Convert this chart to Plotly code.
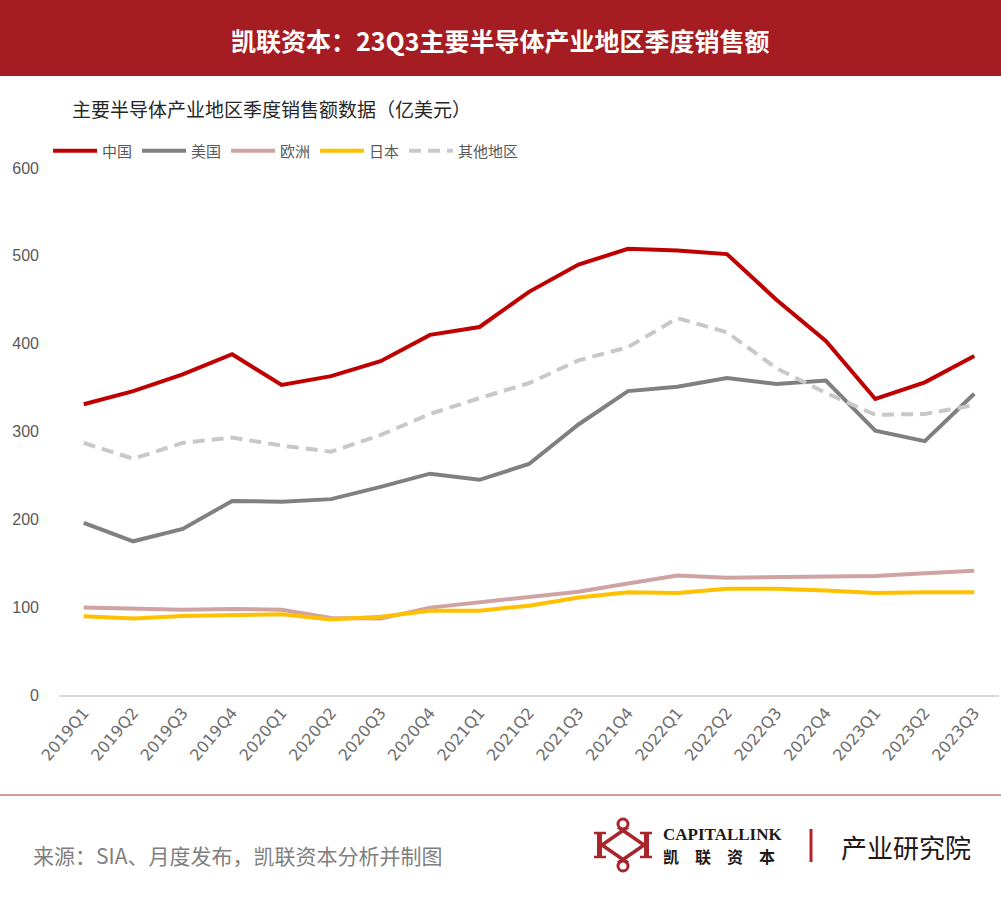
import plotly.graph_objects as go

quarters = ["2019Q1", "2019Q2", "2019Q3", "2019Q4", "2020Q1", "2020Q2", "2020Q3", "2020Q4",
            "2021Q1", "2021Q2", "2021Q3", "2021Q4", "2022Q1", "2022Q2", "2022Q3", "2022Q4",
            "2023Q1", "2023Q2", "2023Q3"]
china = [331, 346, 365, 388, 353, 363, 380, 410, 419, 459, 490, 508, 506, 502, 450, 403, 337, 356, 386]
usa = [196, 175, 189, 221, 220, 223, 237, 252, 245, 263, 308, 346, 351, 361, 354, 358, 301, 289, 343]
europe = [99.5, 98, 97, 98, 97, 87.6, 87, 99.5, 105.5, 112, 117.6, 127, 136, 133.6, 134, 134, 135.5, 138.5, 141.5]
japan = [89.6, 87, 90, 91.5, 92, 86, 89, 96, 96, 101.7, 111, 117, 116, 121, 121, 119, 116, 117, 117]
others = [287, 269, 287, 293, 284, 277, 296, 320, 338, 355, 381, 396, 429, 413, 372, 344, 319, 320, 330]
series_names = ["中国", "美国", "欧洲", "日本", "其他地区"]
y_ticks = [0, 100, 200, 300, 400, 500, 600]

W, H = 1001, 901
L, R, T, B = 59, 2, 168, 206
PW, PH = W - L - R, H - T - B


def px(x):
    return (x - L) / PW


def py(y):
    return (H - B - y) / PH


CJK = "Noto Sans CJK SC"
fig = go.Figure()
styles = [
    dict(color="#C00000", width=4),
    dict(color="#808080", width=4),
    dict(color="#D0A3A3", width=4),
    dict(color="#FFC000", width=4),
    dict(color="#C8C8C8", width=4, dash="12px,7px"),
]
for name, vals, st in zip(series_names, [china, usa, europe, japan, others], styles):
    fig.add_trace(go.Scatter(x=quarters, y=vals, mode="lines", name=name, line=st,
                             hoverinfo="x+y+name"))

fig.update_layout(
    width=W, height=H,
    margin=dict(l=L, r=R, t=T, b=B),
    paper_bgcolor="white", plot_bgcolor="white",
    font=dict(family=CJK, color="#595959"),
    showlegend=True,
    legend=dict(orientation="h", x=px(48), y=py(151), xanchor="left", yanchor="middle",
                font=dict(family=CJK, size=15, color="#595959"),
                itemwidth=44,
                bgcolor="rgba(0,0,0,0)", traceorder="normal"),
    xaxis=dict(type="category", range=[-0.5, len(quarters) - 0.5], showgrid=False,
               zeroline=False, showline=True, linecolor="#D9D9D9", linewidth=2,
               ticks="", tickangle=-50,
               tickfont=dict(family="DejaVu Sans", size=16, color="#6E6E6E")),
    yaxis=dict(range=[0, 600], tickvals=y_ticks, showgrid=False, zeroline=False,
               showline=False, ticks="", ticklabelstandoff=19,
               tickfont=dict(family="Liberation Sans, Arial", size=16, color="#595959")),
)

shapes = []
# header band
shapes.append(dict(type="rect", xref="paper", yref="paper", x0=px(0), x1=px(W),
                   y0=py(0), y1=py(76), fillcolor="#A51C22", line=dict(width=0), layer="below"))
# footer divider
shapes.append(dict(type="line", xref="paper", yref="paper", x0=px(0), x1=px(W),
                   y0=py(795), y1=py(795), line=dict(color="#9E3A3A", width=1)))
# logo (approximation)
lc = "#A8262B"
shapes.append(dict(type="rect", xref="paper", yref="paper", x0=px(597), x1=px(602),
                   y0=py(833), y1=py(857), fillcolor=lc, line=dict(width=0)))
shapes.append(dict(type="rect", xref="paper", yref="paper", x0=px(644), x1=px(649),
                   y0=py(833), y1=py(857), fillcolor=lc, line=dict(width=0)))
for (x0, x1, yy) in [(594, 606, 833), (594, 606, 857), (640, 652, 833), (640, 652, 857)]:
    shapes.append(dict(type="line", xref="paper", yref="paper", x0=px(x0), x1=px(x1),
                       y0=py(yy), y1=py(yy), line=dict(color=lc, width=2.5)))
for (x0, y0, x1, y1) in [(602, 845, 628, 827), (602, 845, 628, 863),
                         (644, 845, 618, 827), (644, 845, 618, 863)]:
    shapes.append(dict(type="line", xref="paper", yref="paper", x0=px(x0), x1=px(x1),
                       y0=py(y0), y1=py(y1), line=dict(color=lc, width=3.5)))
for cy in [824, 866]:
    shapes.append(dict(type="circle", xref="paper", yref="paper", x0=px(618), x1=px(628),
                       y0=py(cy - 5), y1=py(cy + 5), line=dict(color=lc, width=3)))
# vertical bar separator
shapes.append(dict(type="line", xref="paper", yref="paper", x0=px(811), x1=px(811),
                   y0=py(829), y1=py(862), line=dict(color="#B8232A", width=3)))
fig.update_layout(shapes=shapes)

sp = "\u2002\u2002"
ann = [
    dict(text="<b>凯联资本：23Q3主要半导体产业地区季度销售额</b>", x=px(500), y=py(40),
         xanchor="center", yanchor="middle", font=dict(family=CJK, size=25, color="white")),
    dict(text="主要半导体产业地区季度销售额数据（亿美元）", x=px(70), y=py(108),
         xanchor="left", yanchor="middle", font=dict(family=CJK, size=19, color="#262626")),
    dict(text="来源：SIA、月度发布，凯联资本分析并制图", x=px(31), y=py(855),
         xanchor="left", yanchor="middle", font=dict(family=CJK, size=21, color="#7F7F7F")),
    dict(text="<b>CAPITALLINK</b>", x=px(661), y=py(834), xanchor="left", yanchor="middle",
         font=dict(family="Liberation Serif, DejaVu Serif", size=17, color="#231815")),
    dict(text="<b>凯" + sp + "联" + sp + "资" + sp + "本</b>", x=px(661), y=py(856),
         xanchor="left", yanchor="middle",
         font=dict(family=CJK, size=16, color="#231815")),
    dict(text="产业研究院", x=px(839), y=py(846), xanchor="left", yanchor="middle",
         font=dict(family=CJK, size=26, color="#231815")),
]
for a in ann:
    a.update(xref="paper", yref="paper", showarrow=False)
fig.update_layout(annotations=ann)

fig.write_html("out.html")
